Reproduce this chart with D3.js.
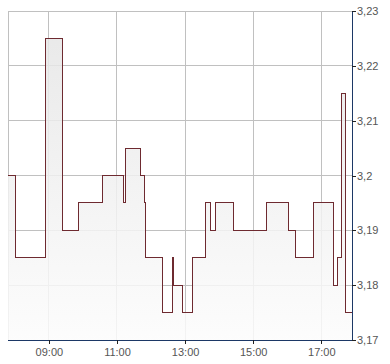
<html>
  <head>
    <script src="https://cdn.jsdelivr.net/npm/d3@7"></script>
    <style>
      body { margin: 0; background: #fff; }
      svg { display: block; font-family: "Liberation Sans", Arial, sans-serif; }
    </style>
  </head>
  <body>
    <script>
      // price steps
      const times = ["07:48", "08:01", "08:54", "09:24", "09:52", "10:34", "11:11", "11:15",
                     "11:41", "11:48", "11:50", "12:20", "12:38", "12:40", "12:55", "13:13",
                     "13:36", "13:44", "13:54", "14:25", "15:24", "16:02", "16:14", "16:47",
                     "17:21", "17:29", "17:35", "17:43", "17:54"];
      const prices = [3.20, 3.185, 3.225, 3.19, 3.195, 3.20, 3.195, 3.205,
                      3.20, 3.195, 3.185, 3.175, 3.185, 3.18, 3.175, 3.185,
                      3.195, 3.19, 3.195, 3.19, 3.195, 3.19, 3.185, 3.195,
                      3.18, 3.185, 3.215, 3.175, 3.175];
      const xTicks = ["09:00", "11:00", "13:00", "15:00", "17:00"];
      const yTicks = [3.17, 3.18, 3.19, 3.2, 3.21, 3.22, 3.23];

      const width = 390, height = 364;
      const plotLeft = 8, plotRight = 352, plotTop = 11, plotBottom = 340;

      const parse = d3.timeParse("%H:%M");
      const data = times.map((t, i) => ({ t: parse(t), v: prices[i] }));

      const x = d3.scaleTime()
          .domain([parse("07:48"), parse("17:54")])
          .range([plotLeft, plotRight]);
      const y = d3.scaleLinear()
          .domain([3.17, 3.23])
          .range([plotBottom, plotTop]);

      const svg = d3.select("body").append("svg")
          .attr("width", width)
          .attr("height", height);

      const grad = svg.append("defs").append("linearGradient")
          .attr("id", "fill")
          .attr("gradientUnits", "userSpaceOnUse")
          .attr("x1", 0).attr("x2", 0)
          .attr("y1", plotTop).attr("y2", plotBottom);
      grad.append("stop").attr("offset", "0%").attr("stop-color", "#e4e4e4");
      grad.append("stop").attr("offset", "100%").attr("stop-color", "#fcfcfc");

      // grid
      const grid = svg.append("g")
          .attr("stroke", "#c0c0c0")
          .attr("shape-rendering", "crispEdges");
      grid.selectAll(".gy").data(yTicks).join("line")
          .attr("x1", plotLeft).attr("x2", plotRight)
          .attr("y1", d => y(d)).attr("y2", d => y(d));
      grid.selectAll(".gx").data(xTicks).join("line")
          .attr("x1", d => x(parse(d))).attr("x2", d => x(parse(d)))
          .attr("y1", plotTop).attr("y2", plotBottom);
      grid.append("line")
          .attr("x1", plotLeft).attr("x2", plotLeft)
          .attr("y1", plotTop).attr("y2", plotBottom);

      const area = d3.area()
          .x(d => x(d.t))
          .y0(plotBottom)
          .y1(d => y(d.v))
          .curve(d3.curveStepAfter);
      const line = d3.line()
          .x(d => x(d.t))
          .y(d => y(d.v))
          .curve(d3.curveStepAfter);

      svg.append("path")
          .datum(data)
          .attr("fill", "url(#fill)")
          .attr("fill-opacity", 0.85)
          .attr("d", area);

      svg.append("path")
          .datum(data)
          .attr("fill", "none")
          .attr("stroke", "#6e2a30")
          .attr("stroke-width", 1)
          .attr("shape-rendering", "crispEdges")
          .attr("d", line);

      // axes
      const xAxis = svg.append("g")
          .attr("transform", `translate(0,${plotBottom})`)
          .call(d3.axisBottom(x)
              .tickValues(xTicks.map(parse))
              .tickFormat(d3.timeFormat("%H:%M"))
              .tickSize(4)
              .tickPadding(4));
      const yAxis = svg.append("g")
          .attr("transform", `translate(${plotRight},0)`)
          .call(d3.axisRight(y)
              .tickValues(yTicks)
              .tickFormat(d => String(d).replace(".", ","))
              .tickSize(4)
              .tickPadding(1));

      for (const g of [xAxis, yAxis]) {
        g.select(".domain").attr("stroke", "#1c3866").attr("shape-rendering", "crispEdges");
        g.selectAll(".tick line").attr("stroke", "#222").attr("shape-rendering", "crispEdges");
        g.selectAll("text")
            .attr("fill", "#555")
            .style("font-size", "11px")
            .style("font-family", "'Liberation Sans', Arial, sans-serif");
      }
      xAxis.select(".domain").attr("d", `M${plotLeft},0.5H${plotRight}`);
      yAxis.select(".domain").attr("d", `M0.5,${plotTop}V${plotBottom}`);
    </script>
  </body>
</html>
